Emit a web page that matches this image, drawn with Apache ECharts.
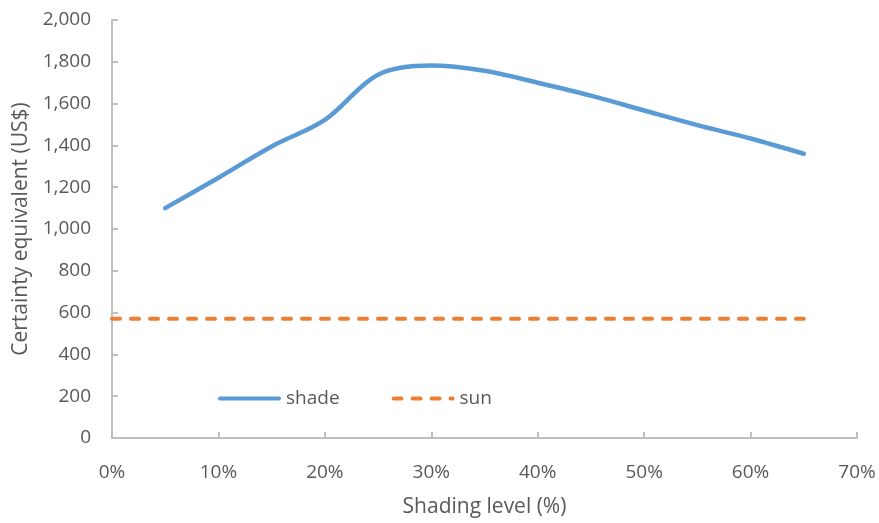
<!DOCTYPE html>
<html>
<head>
<meta charset="utf-8">
<script src="https://cdn.jsdelivr.net/npm/echarts@6/dist/echarts.min.js"></script>
<style>
  html, body { margin: 0; padding: 0; background: #ffffff; }
  #chart { width: 879px; height: 523px; }
</style>
</head>
<body>
<div id="chart"></div>
<script>
// Shading level (%) at which the certainty equivalent was evaluated
const shadeLevels = [5, 10, 15, 20, 25, 30, 35, 40, 45, 50, 55, 60, 65];
// Certainty equivalent (US$) for the shaded system
const shadeValues = [1100, 1245, 1395, 1522, 1738, 1782, 1757, 1700, 1638, 1567, 1497, 1433, 1360];
// Certainty equivalent (US$) for the full-sun system (constant)
const sunLevels = [0, 5, 10, 15, 20, 25, 30, 35, 40, 45, 50, 55, 60, 65];
const sunValues = [570, 570, 570, 570, 570, 570, 570, 570, 570, 570, 570, 570, 570, 570];
// Axis ranges
const xTicks = [0, 10, 20, 30, 40, 50, 60, 70];
const yTicks = [0, 200, 400, 600, 800, 1000, 1200, 1400, 1600, 1800, 2000];

const FONT = '"Open Sans", "Noto Sans", sans-serif';
const TEXT = '#595959';
const AXIS = '#BFBFBF';

// Legend swatches: a solid rounded bar and a dashed bar, both 63 x 4
const ICON_SOLID = 'path://M2,0H61A2,2 0 0 1 61,4H2A2,2 0 0 1 2,0Z';
const ICON_DASHED = 'path://M2,0H10A2,2 0 0 1 10,4H2A2,2 0 0 1 2,0Z' +
  'M21,0H29A2,2 0 0 1 29,4H21A2,2 0 0 1 21,0Z' +
  'M40,0H48A2,2 0 0 1 48,4H40A2,2 0 0 1 40,0Z' +
  'M59,0H61A2,2 0 0 1 61,4H59A2,2 0 0 1 59,0Z';

const chart = echarts.init(document.getElementById('chart'), null, { renderer: 'canvas' });

const pair = (xs, ys) => xs.map((x, i) => [x, ys[i]]);

chart.setOption({
  animation: false,
  backgroundColor: '#ffffff',
  textStyle: { fontFamily: FONT, color: TEXT },
  grid: { left: 112, right: 22, top: 20, bottom: 83, containLabel: false },
  legend: {
    left: 213,
    top: 384,
    itemWidth: 63,
    itemHeight: 4,
    itemGap: 52,
    textStyle: { fontFamily: FONT, fontSize: 19, color: TEXT, padding: [4, 0, 0, 0] },
    data: [
      { name: 'shade', icon: ICON_SOLID },
      { name: 'sun', icon: ICON_DASHED }
    ]
  },
  xAxis: {
    type: 'value',
    min: xTicks[0],
    max: xTicks[xTicks.length - 1],
    interval: 10,
    name: 'Shading level (%)',
    nameLocation: 'middle',
    nameGap: 59,
    nameTextStyle: { fontFamily: FONT, fontSize: 21, color: TEXT },
    axisLine: { show: true, lineStyle: { color: AXIS, width: 2 } },
    axisTick: { show: true, inside: true, length: 6, lineStyle: { color: AXIS, width: 2 } },
    axisLabel: {
      margin: 25,
      fontFamily: FONT, fontSize: 19, color: TEXT,
      formatter: v => v + '%'
    },
    splitLine: { show: false }
  },
  yAxis: {
    type: 'value',
    min: yTicks[0],
    max: yTicks[yTicks.length - 1],
    interval: 200,
    name: 'Certainty equivalent (US$)',
    nameLocation: 'middle',
    nameGap: 80,
    nameTextStyle: { fontFamily: FONT, fontSize: 21, color: TEXT },
    axisLine: { show: true, lineStyle: { color: AXIS, width: 2 } },
    axisTick: { show: true, inside: true, length: 6, lineStyle: { color: AXIS, width: 2 } },
    axisLabel: {
      margin: 21,
      fontFamily: FONT, fontSize: 19, color: TEXT,
      formatter: v => v.toLocaleString('en-US')
    },
    splitLine: { show: false }
  },
  series: [
    {
      name: 'shade',
      type: 'line',
      data: pair(shadeLevels, shadeValues),
      smooth: 0.33,
      symbol: 'none',
      showSymbol: false,
      lineStyle: { color: '#5B9BD5', width: 4.5, cap: 'round', join: 'round' },
      itemStyle: { color: '#5B9BD5' }
    },
    {
      name: 'sun',
      type: 'line',
      data: pair(sunLevels, sunValues),
      symbol: 'none',
      showSymbol: false,
      lineStyle: { color: '#ED7D31', width: 4, type: [8, 11], cap: 'round' },
      itemStyle: { color: '#ED7D31' }
    }
  ]
});
</script>
</body>
</html>
